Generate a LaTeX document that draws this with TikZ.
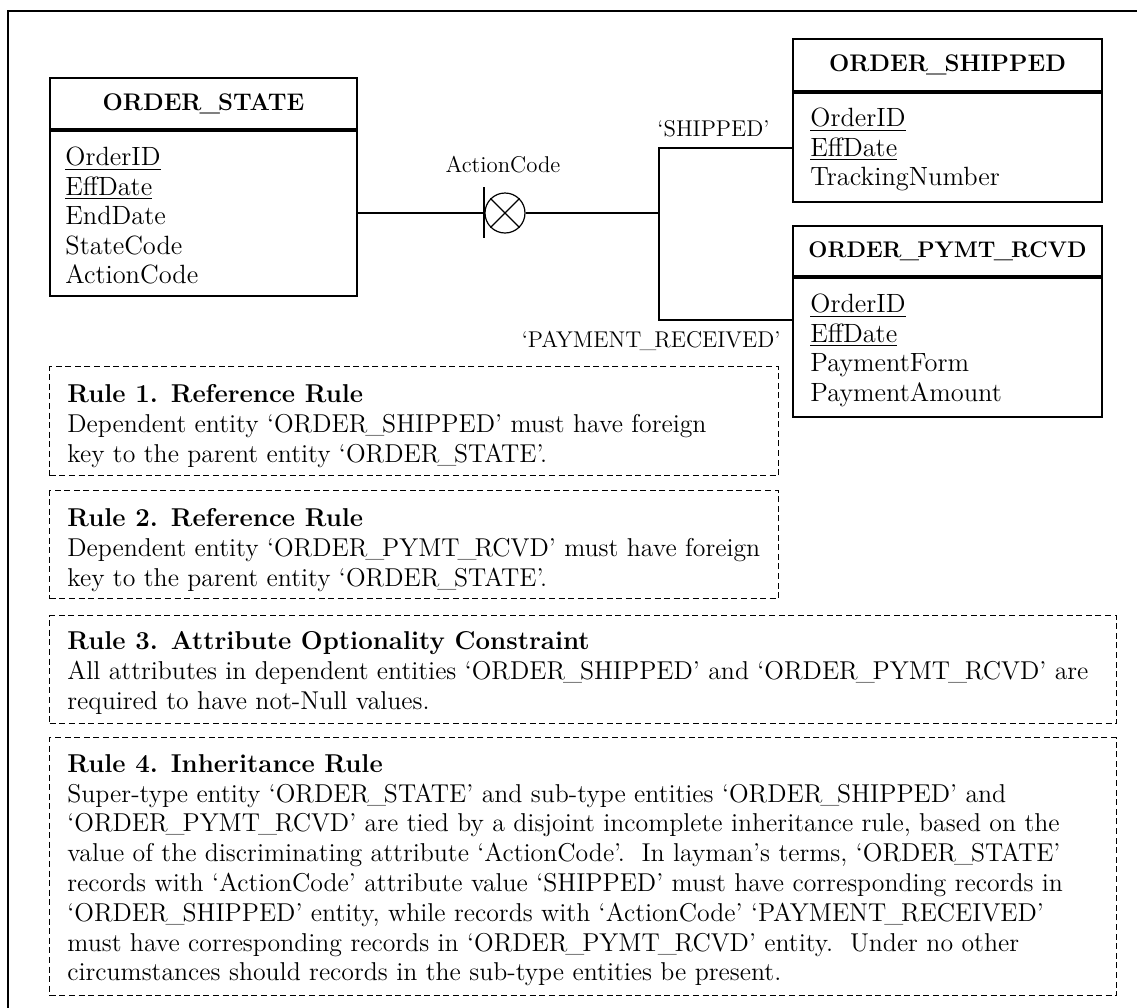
\documentclass[tikz,border=0pt]{standalone}
\usetikzlibrary{calc}
\newcommand{\usc}{\kern-0.08em\_\kern-0.08em}
\tikzset{
  entbox/.style={draw, line width=1pt, anchor=north west, inner sep=0pt},
  enttitle/.style={entbox, font=\fontsize{12}{14}\selectfont\bfseries},
  attrs/.style={anchor=north west, align=left, inner sep=0pt, font=\fontsize{13.2}{14.75}\selectfont},
  conn/.style={line width=1pt},
  thinconn/.style={line width=0.7pt},
  rulebox/.style={draw, dash pattern=on 3pt off 1.8pt, line width=0.7pt, anchor=north west, inner sep=0pt},
  ruletext/.style={anchor=north west, align=left, inner sep=0pt, font=\fontsize{12.9}{14.9}\selectfont},
  lbl/.style={inner sep=0pt, font=\fontsize{11.4}{13}\selectfont},
  disc/.style={draw, circle, minimum size=20pt, inner sep=0pt, line width=0.6pt},
  framestyle/.style={line width=1.2pt},
}
\begin{document}
\begin{tikzpicture}[x=0.5pt,y=-0.5pt]
\useasboundingbox (0,0) rectangle (1137,1008);
\clip (0,0) rectangle (1137,1008);
\draw[framestyle] (8,11) rectangle (1145,1015);

% ORDER_STATE
\node[enttitle, minimum width=153.5pt, minimum height=25.5pt] (osh) at (49,77) {ORDER\usc STATE};
\node[entbox, minimum width=153.5pt, minimum height=82.5pt] (osb) at (osh.south west) {};
\node[attrs] (osa) at (65,147) {\underline{OrderID}\\\underline{EffDate}\\EndDate\\StateCode\\ActionCode};

% ORDER_SHIPPED
\node[enttitle, minimum width=154.5pt, minimum height=26pt] (shh) at (792,38) {ORDER\usc SHIPPED};
\node[entbox, minimum width=154.5pt, minimum height=54.5pt] (shb) at (shh.south west) {};
\node[attrs] (sha) at (810,108) {\underline{OrderID}\\\underline{EffDate}\\TrackingNumber};

% ORDER_PYMT_RCVD
\node[enttitle, minimum width=154.5pt, minimum height=25pt, font=\fontsize{11.3}{14}\selectfont\bfseries] (pyh) at (792,225) {ORDER\usc PYMT\usc RCVD};
\node[entbox, minimum width=154.5pt, minimum height=69.5pt] (pyb) at (pyh.south west) {};
\node[attrs] (pya) at (810,294) {\underline{OrderID}\\\underline{EffDate}\\PaymentForm\\PaymentAmount};

% connector
\coordinate (bar) at (484,213);
\coordinate (jn) at (659,213);
\coordinate (jt) at (659,148);
\coordinate (jb) at (659,320);
\draw[conn] (osb.east |- bar) -- (bar);
\draw[line width=1.3pt] ([yshift=13pt]bar) -- ([yshift=-12.5pt]bar);
\node[disc] (dc) at (505,213) {};
\draw[line width=0.6pt] (dc.north west) -- (dc.south east) (dc.north east) -- (dc.south west);
\draw[conn] (dc.east) -- (jn);
\draw[conn] (shb.west |- jt) -- (jt) -- (jn);
\draw[thinconn] (jn) -- (jb) -- (pyb.west |- jb);

\node[lbl] (lac) at (503,165) {ActionCode};
\node[lbl, anchor=west] (lsh) at (657,129) {‘SHIPPED’};
\node[lbl, anchor=east] (lpr) at (781,341) {‘PAYMENT\usc RECEIVED’};

% rules
\node[rulebox, minimum width=364.5pt, minimum height=54.5pt] (r1) at (49,366) {};
\node[ruletext] (r1t) at (67,384) {\textbf{Rule 1. Reference Rule}\\Dependent entity ‘ORDER\usc SHIPPED’ must have foreign\\key to the parent entity ‘ORDER\usc STATE’.};

\node[rulebox, minimum width=364.5pt, minimum height=54pt] (r2) at (49,490) {};
\node[ruletext] (r2t) at (67,508) {\textbf{Rule 2. Reference Rule}\\Dependent entity ‘ORDER\usc PYMT\usc RCVD’ must have foreign\\key to the parent entity ‘ORDER\usc STATE’.};

\node[rulebox, minimum width=533.5pt, minimum height=54pt] (r3) at (49,615) {};
\node[ruletext] (r3t) at (67,631) {\textbf{Rule 3. Attribute Optionality Constraint}\\All attributes in dependent entities ‘ORDER\usc SHIPPED’ and ‘ORDER\usc PYMT\usc RCVD’ are\\required to have not-Null values.};

\node[rulebox, minimum width=533.5pt, minimum height=129pt] (r4) at (49,737) {};
\node[ruletext] (r4t) at (67,754) {\textbf{Rule 4. Inheritance Rule}\\
Super-type entity ‘ORDER\usc STATE’ and sub-type entities ‘ORDER\usc SHIPPED’ and\\
‘ORDER\usc PYMT\usc RCVD’ are tied by a disjoint incomplete inheritance rule, based on the\\
value of the discriminating attribute ‘ActionCode’.\ \ In layman’s terms, ‘ORDER\usc STATE’\\
records with ‘ActionCode’ attribute value ‘SHIPPED’ must have corresponding records in\\
‘ORDER\usc SHIPPED’ entity, while records with ‘ActionCode’ ‘PAYMENT\usc RECEIVED’\\
must have corresponding records in ‘ORDER\usc PYMT\usc RCVD’ entity.\ \ Under no other\\
circumstances should records in the sub-type entities be present.};
\end{tikzpicture}
\end{document}
